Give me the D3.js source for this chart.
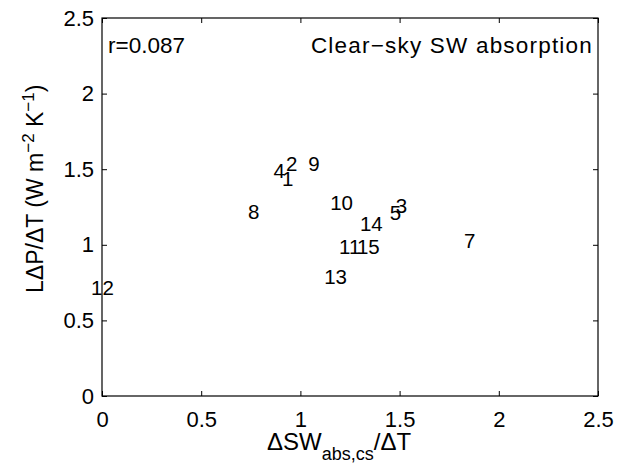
<!DOCTYPE html>
<meta charset="utf-8" />
<style>
  body { margin: 0; background: #fff; }
  svg text { font-family: "Liberation Sans", Arial, Helvetica, sans-serif; fill: #000; }
</style>
<svg width="618" height="468"></svg>
<script src="https://cdn.jsdelivr.net/npm/d3@7"></script>
<script>
  // model numbers and their values (model 6 not shown)
  var models = ["1", "2", "3", "4", "5", "7", "8", "9", "10", "11", "12", "13", "14", "15"];
  var swAbs = [0.907, 0.927, 1.48, 0.865, 1.45, 1.825, 0.736, 1.04, 1.15, 1.195, -0.055, 1.12, 1.30, 1.285];
  var dPdT = [1.435, 1.54, 1.26, 1.488, 1.214, 1.03, 1.217, 1.54, 1.28, 0.99, 0.72, 0.787, 1.138, 0.99];
  var ticks = [0, 0.5, 1, 1.5, 2, 2.5];
  var tickLabels = ["0", "0.5", "1", "1.5", "2", "2.5"];
  var rText = "r=0.087";
  var panelTitle = "Clear\u2212sky SW absorption";

  var svg = d3.select("svg"),
    margin = { top: 18, right: 20, bottom: 72, left: 102 },
    width = +svg.attr("width") - margin.left - margin.right,
    height = +svg.attr("height") - margin.top - margin.bottom;

  var x = d3.scaleLinear().domain([0, 2.5]).range([0, width]),
    y = d3.scaleLinear().domain([0, 2.5]).range([height, 0]);

  var g = svg.append("g")
    .attr("transform", "translate(" + margin.left + "," + margin.top + ")");

  var tickLen = 5;
  function fmt(d) { return tickLabels[ticks.indexOf(d)]; }

  // four sides, ticks pointing in
  g.append("g").attr("transform", "translate(0," + height + ")")
    .call(d3.axisBottom(x).tickValues(ticks).tickFormat(fmt).tickSizeInner(-tickLen).tickSizeOuter(0).tickPadding(15));
  g.append("g")
    .call(d3.axisTop(x).tickValues(ticks).tickFormat("").tickSizeInner(-tickLen).tickSizeOuter(0));
  g.append("g")
    .call(d3.axisLeft(y).tickValues(ticks).tickFormat(fmt).tickSizeInner(-tickLen).tickSizeOuter(0).tickPadding(8));
  g.append("g").attr("transform", "translate(" + width + ",0)")
    .call(d3.axisRight(y).tickValues(ticks).tickFormat("").tickSizeInner(-tickLen).tickSizeOuter(0));

  g.selectAll(".domain").remove();
  g.selectAll(".tick line").attr("stroke", "#000").attr("stroke-width", 1);
  g.selectAll(".tick text").style("font-size", "22px").attr("fill", "#000");

  g.append("rect")
    .attr("x", 0).attr("y", 0)
    .attr("width", width).attr("height", height)
    .attr("fill", "none").attr("stroke", "#000").attr("stroke-width", 1.2);

  // model number labels
  g.selectAll(".lab")
    .data(models)
    .enter()
    .append("text")
    .attr("class", "lab")
    .attr("x", function(d, i) { return x(swAbs[i]); })
    .attr("y", function(d, i) { return y(dPdT[i]); })
    .attr("dy", "0.36em")
    .style("font-size", "20.5px")
    .text(function(d) { return d; });

  // annotations
  g.append("text").attr("x", 6).attr("y", 35).style("font-size", "22.5px").text(rText);
  g.append("text").attr("x", width - 5).attr("y", 35).attr("text-anchor", "end")
    .style("font-size", "22.5px").style("letter-spacing", "1.2px").text(panelTitle);

  // x label
  var xlab = svg.append("text").attr("x", 267).attr("y", 450).style("font-size", "24px");
  xlab.append("tspan").text("\u0394SW");
  xlab.append("tspan").attr("dy", 10).style("font-size", "18px").text("abs,cs");
  xlab.append("tspan").attr("dy", -10).text("/\u0394T");

  // y label
  var ylab = svg.append("text")
    .attr("transform", "translate(43,293) rotate(-90)")
    .style("font-size", "23px");
  ylab.append("tspan").text("L\u0394P/\u0394T (W m");
  ylab.append("tspan").attr("dy", -9).style("font-size", "17px").text("\u22122");
  ylab.append("tspan").attr("dy", 9).text(" K");
  ylab.append("tspan").attr("dy", -9).style("font-size", "17px").text("\u22121");
  ylab.append("tspan").attr("dy", 9).text(")");
</script>
